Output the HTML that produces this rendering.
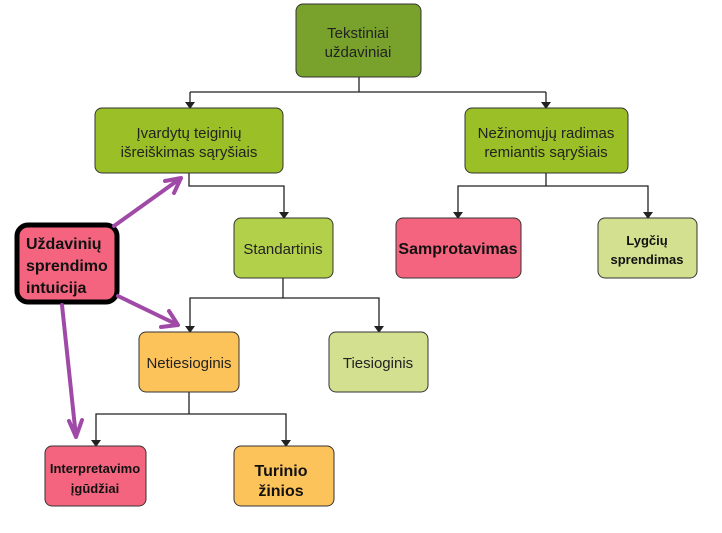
<!DOCTYPE html>
<html><head><meta charset="utf-8"><style>
html,body{margin:0;padding:0;background:#fff;width:722px;height:533px;overflow:hidden}
svg text{font-family:"Liberation Sans",sans-serif;fill:#222}
.b{font-family:"Liberation Sans",sans-serif;font-weight:bold;fill:#111}
</style></head><body>
<svg width="722" height="533" viewBox="0 0 722 533" xmlns="http://www.w3.org/2000/svg">
<g stroke="#222" stroke-width="1.3" fill="none">
<path d="M359 77V92M190 92H546M190 92V103M546 92V103"/>
<path d="M189 173V186H284V213"/>
<path d="M546 173V186H458V213M458 186H648V213"/>
<path d="M283 277V298H190V327M190 298H379V327"/>
<path d="M189 392V414H96V441M96 414H286V441"/>
</g>
<g fill="#222">
<path d="M185 102h10l-5 7z"/><path d="M541 102h10l-5 7z"/>
<path d="M279 212h10l-5 7z"/><path d="M453 212h10l-5 7z"/><path d="M643 212h10l-5 7z"/>
<path d="M185 326h10l-5 7z"/><path d="M374 326h10l-5 7z"/>
<path d="M91 440h10l-5 7z"/><path d="M281 440h10l-5 7z"/>
</g>
<g stroke="#333" stroke-width="1">
<rect x="296" y="4" width="125" height="73" rx="7" fill="#78a22c"/>
<rect x="95" y="108" width="188" height="65" rx="7" fill="#9bbf26"/>
<rect x="465" y="108" width="163" height="65" rx="7" fill="#9bbf26"/>
<rect x="234" y="218" width="99" height="60" rx="7" fill="#b3d04a"/>
<rect x="396" y="218" width="125" height="60" rx="7" fill="#f4647f"/>
<rect x="598" y="218" width="99" height="60" rx="7" fill="#d3e090"/>
<rect x="139" y="332" width="100" height="60" rx="7" fill="#fdc35b"/>
<rect x="329" y="332" width="99" height="60" rx="7" fill="#d3e090"/>
<rect x="45" y="446" width="101" height="60" rx="7" fill="#f4647f"/>
<rect x="234" y="446" width="100" height="60" rx="7" fill="#fdc35b"/>
</g>
<rect x="17" y="225" width="100" height="77" rx="11" fill="#f4647f" stroke="#000" stroke-width="5"/>
<g stroke="#a04aa8" stroke-width="4" fill="none" stroke-linecap="round" stroke-linejoin="round">
<path d="M114 226L181 178M165 181L181 178L174 193"/>
<path d="M118 296L178 325M161 327L178 325L169 311"/>
<path d="M62 305L76 437M69 421L76 437L82 420"/>
</g>
<g font-size="15" text-anchor="middle">
<text x="358" y="38">Tekstiniai</text><text x="358" y="57">uždaviniai</text>
<text x="189" y="138">Įvardytų teiginių</text><text x="189" y="157">išreiškimas sąryšiais</text>
<text x="546" y="138">Nežinomųjų radimas</text><text x="546" y="157">remiantis sąryšiais</text>
<text x="283" y="254">Standartinis</text>
<text x="189" y="368">Netiesioginis</text>
<text x="378" y="368">Tiesioginis</text>
</g>
<text class="b" x="458" y="254" font-size="16" text-anchor="middle">Samprotavimas</text>
<text class="b" x="647" y="245" font-size="13" text-anchor="middle">Lygčių</text>
<text class="b" x="647" y="264" font-size="13" text-anchor="middle">sprendimas</text>
<text class="b" x="95" y="473" font-size="13" text-anchor="middle">Interpretavimo</text>
<text class="b" x="95" y="493" font-size="13" text-anchor="middle">įgūdžiai</text>
<text class="b" x="281" y="476" font-size="16" text-anchor="middle">Turinio</text>
<text class="b" x="281" y="496" font-size="16" text-anchor="middle">žinios</text>
<text class="b" x="26" y="249" font-size="16">Uždavinių</text>
<text class="b" x="26" y="271" font-size="16">sprendimo</text>
<text class="b" x="26" y="293" font-size="16">intuicija</text>
</svg>
</body></html>
